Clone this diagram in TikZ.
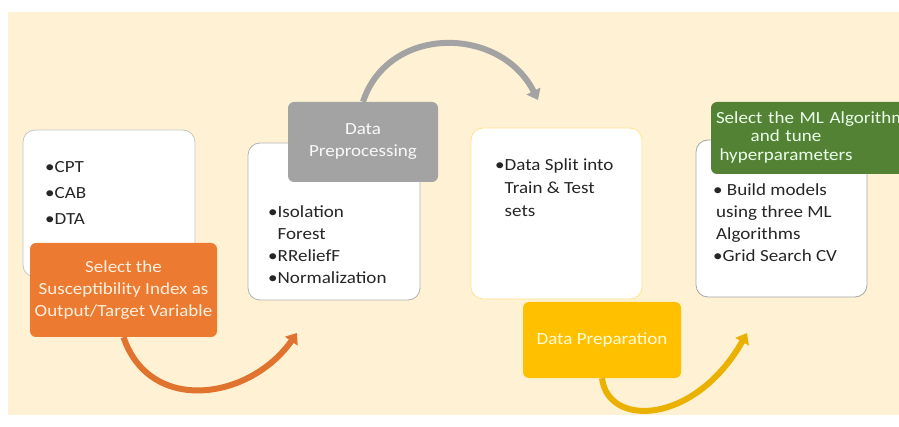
\documentclass[tikz,border=0pt]{standalone}
\usepackage{fontspec}
\setmainfont{Carlito}[FakeStretch=1.12]
\usetikzlibrary{arrows.meta}
\definecolor{bgbeige}{HTML}{FFF1D4}
\definecolor{selorange}{HTML}{EC7A30}
\definecolor{prepgray}{HTML}{A3A3A3}
\definecolor{dataylw}{HTML}{FFC000}
\definecolor{mlgreen}{HTML}{548235}
\definecolor{bodytext}{HTML}{262626}
\tikzset{
  stagebox/.style={draw=#1, fill=white, rounded corners=12pt, line width=0.8pt, inner sep=0pt},
  tagbox/.style={fill=#1, rounded corners=6pt, inner sep=0pt, align=center},
  bullets/.style={anchor=north west, inner sep=0pt, align=left, text=bodytext},
  flowarrow/.style={draw=#1, line width=6pt, -{Triangle[length=10pt,width=15pt]}}
}

\begin{document}
\begin{tikzpicture}[x=1pt, y=-1pt, font=\fontsize{17}{22}\selectfont]
  \clip (0,0) rectangle (899,427);
  \fill[bgbeige] (8,12) rectangle (899,415);

  % white stage boxes
  \node[stagebox=gray!45, minimum width=172pt, minimum height=147pt] (cptbox) at (109,203.5) {};
  \node[stagebox=gray!60, minimum width=172pt, minimum height=157pt] (prepbox) at (334,221.5) {};
  \node[stagebox=dataylw!45, minimum width=171pt, minimum height=171pt] (splitbox) at (556.5,213.5) {};
  \node[stagebox=gray!70, minimum width=171pt, minimum height=157pt] (buildbox) at (781.5,218.5) {};

  \node[bullets, font=\fontsize{17}{26}\selectfont] (cptlist) at (45,161) {•CPT\\•CAB\\•DTA};
  \node[bullets] (preplist) at (268,205) {•Isolation\\\phantom{•}Forest\\•RReliefF\\•Normalization};
  \node[bullets, font=\fontsize{17}{23}\selectfont] (splitlist) at (495,158) {•Data Split into\\\phantom{•}Train \& Test\\\phantom{•}sets};
  \node[bullets] (buildlist) at (713,183) {• Build models\\\hspace{3pt}using three ML\\\hspace{3pt}Algorithms\\•Grid Search CV};

  % coloured step labels
  \node[tagbox=selorange, text=orange!12, minimum width=187pt, minimum height=94pt] (selbox) at (123.5,290)
    {Select the\\Susceptibility Index as\\Output/Target Variable};
  \node[tagbox=prepgray, text=white!95!gray, minimum width=150pt, minimum height=80pt] (dpbox) at (363,142)
    {Data\\Preprocessing};
  \node[tagbox=dataylw, text=yellow!15, minimum width=158pt, minimum height=76pt] (dprepbox) at (602,340)
    {Data Preparation};
  \node[tagbox=mlgreen, minimum width=194pt, minimum height=72pt] (algbox) at (808,138) {};
  \node[inner sep=0pt, text width=140pt, align=center, text=green!8, font=\fontsize{17}{18.5}\selectfont] (algtext) at (786,137)
    {\mbox{Select the ML Algorithm}\\and tune\\hyperparameters};

  % curved flow arrows
  \coordinate (orgtip) at (297,333);
  \coordinate (graytip) at (538,100);
  \coordinate (ylwtip) at (747,333);
  \draw[flowarrow=selorange!95!black] (selbox.south) .. controls (150,415) and (250,400) .. (orgtip);
  \draw[flowarrow=prepgray] (dpbox.north) .. controls (388,25) and (500,25) .. (graytip);
  \draw[flowarrow=dataylw!92!black] (dprepbox.south) .. controls (608,428) and (695,425) .. (ylwtip);
\end{tikzpicture}
\end{document}
